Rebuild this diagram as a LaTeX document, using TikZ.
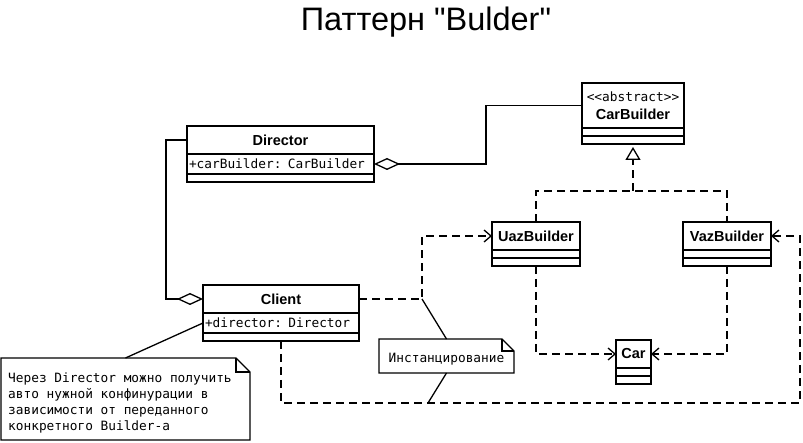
\documentclass[tikz,border=0pt]{standalone}
\usepackage{fontspec}
\setmainfont{Liberation Sans}
\newfontfamily\umlmono{DejaVu Sans Mono}
\usepackage{tikz}
\usetikzlibrary{arrows.meta,positioning}
\tikzstyle{classname} = [rectangle, draw, line width=1.6pt, fill=white, inner sep=0pt, outer sep=0pt, minimum height=28pt, font=\fontsize{14.5}{17}\selectfont\bfseries]
\tikzstyle{compart} = [rectangle, draw, line width=1.6pt, fill=white, inner sep=0pt, outer sep=0pt, minimum height=8pt]
\tikzstyle{attrrow} = [compart, minimum height=20pt, inner xsep=2pt, align=left, font=\umlmono\fontsize{12.8}{16}\selectfont]
\tikzstyle{assoc} = [line width=1.3pt]
\tikzstyle{aggregation} = [assoc, -{Diamond[open, length=26pt, width=12pt]}]
\tikzstyle{inherit} = [assoc, dash pattern=on 8pt off 5pt]
\tikzstyle{depend} = [inherit, -{Straight Barb[length=7pt, width=12pt]}]
\tikzstyle{notebody} = [rectangle, inner sep=0pt, outer sep=0pt, font=\umlmono\fontsize{12.8}{16}\selectfont]
\tikzstyle{notetext} = [font=\umlmono\fontsize{12.8}{16}\selectfont, align=left, inner sep=0pt]

\begin{document}
\begin{tikzpicture}[x=1pt, y=-1pt]
\fill[white] (0,0) rectangle (803,443);
\useasboundingbox (0,0) rectangle (803,443);

% Title
\node[font=\fontsize{32.5}{38}\selectfont] (title) at (426,22) {Паттерн \textquotedbl Bulder\textquotedbl};

% Director
\node[classname, minimum width=187pt] (director) at (280.5,140) {Director};
\node[attrrow, text width=183pt, below=0pt of director] (dirattr) {+carBuilder: CarBuilder};
\node[compart, minimum width=187pt, below=0pt of dirattr] (dirops) {};

% Abstract builder
\node[classname, minimum width=102pt, minimum height=45pt, align=center] (carbuilder) at (633,105.5)
  {{\umlmono\mdseries\fontsize{12.8}{16}\selectfont\textless\textless abstract\textgreater\textgreater}\\[1pt]CarBuilder};
\node[compart, minimum width=102pt, below=0pt of carbuilder] (carbattr) {};
\node[compart, minimum width=102pt, below=0pt of carbattr] (carbops) {};

% Concrete builders
\node[classname, minimum width=88pt] (uaz) at (536,236) {UazBuilder};
\node[compart, minimum width=88pt, below=0pt of uaz] (uazattr) {};
\node[compart, minimum width=88pt, below=0pt of uazattr] (uazops) {};
\node[classname, minimum width=88pt] (vaz) at (727,236) {VazBuilder};
\node[compart, minimum width=88pt, below=0pt of vaz] (vazattr) {};
\node[compart, minimum width=88pt, below=0pt of vazattr] (vazops) {};

% Client
\node[classname, minimum width=156pt] (client) at (281,299) {Client};
\node[attrrow, text width=152pt, below=0pt of client] (clientattr) {+director: Director};
\node[compart, minimum width=156pt, below=0pt of clientattr] (clientops) {};

% Product
\node[classname, minimum width=35pt] (car) at (633.5,354) {Car};
\node[compart, minimum width=35pt, below=0pt of car] (carattr) {};
\node[compart, minimum width=35pt, below=0pt of carattr] (carops) {};

% Notes
\node[notebody, minimum width=135pt, minimum height=34pt, text height=15pt] (instnote) at (446.5,356) {Инстанцирование};
\draw[assoc] (instnote.north west) -- ([xshift=-12pt]instnote.north east) -- ([yshift=-12pt]instnote.north east) -- (instnote.south east) -- (instnote.south west) -- cycle;
\draw[assoc] ([xshift=-12pt]instnote.north east) |- ([yshift=-12pt]instnote.north east);
\node[notebody, minimum width=249pt, minimum height=82pt] (bignote) at (125.5,399) {};
\draw[assoc] (bignote.north west) -- ([xshift=-14pt]bignote.north east) -- ([yshift=-14pt]bignote.north east) -- (bignote.south east) -- (bignote.south west) -- cycle;
\draw[assoc] ([xshift=-14pt]bignote.north east) |- ([yshift=-14pt]bignote.north east);
\node[notetext, anchor=north west] (bignotetext) at ([xshift=7pt, yshift=-15pt]bignote.north west)
  {Через Director можно получить\\авто нужной конфинурации в\\зависимости от переданного\\конкретного Builder-а};

% Aggregations
\draw[aggregation] (carbuilder.west) -- ++(-96,0) |- (dirattr.east);
\draw[aggregation] (director.west) -- ++(-21,0) |- (client.west);

% Generalization
\coordinate (branch) at (633,191);
\draw[inherit] (uaz.north) |- (branch) -| (vaz.north);
\draw[inherit, -{Triangle[open, length=13pt, width=15pt]}, shorten >=3pt] (branch) -- (carbops.south);

% Dependencies
\draw[depend] (client.east) -- ++(63,0) coordinate (instcorner) |- (uaz.west);
\draw[depend] (clientops.south) -- ++(0,62) coordinate (loopcorner) -- ++(519,0) |- (vaz.east);
\draw[depend] (uazops.south) |- (car.west);
\draw[depend] (vazops.south) |- (car.east);

% Note links
\coordinate (instmark) at (428,403);
\draw[assoc] (instnote.north) -- (instcorner);
\draw[assoc] (instnote.south) -- (instmark);
\draw[assoc] (bignote.north) -- (clientattr.west);
\end{tikzpicture}
\end{document}
